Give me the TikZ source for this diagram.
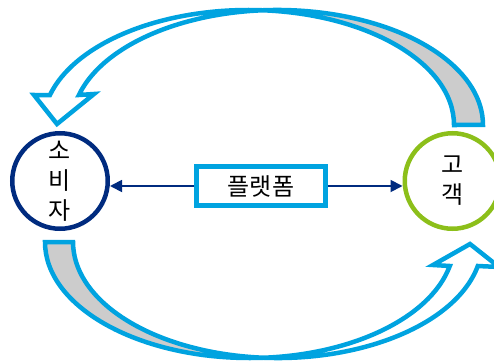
\documentclass[tikz,border=0pt]{standalone}
\usepackage{fontspec}
\setmainfont{Noto Sans CJK KR}
\usetikzlibrary{arrows.meta}
\definecolor{cy}{HTML}{00A3E0}
\definecolor{navy}{HTML}{002B7F}
\definecolor{grn}{HTML}{8CBF1A}
\definecolor{backgray}{HTML}{CCCCCC}
\tikzset{
  bigarrow/.style={draw=cy, line width=4.5pt, line join=miter, miter limit=10},
  backface/.style={fill=backgray},
  party/.style={circle, line width=4.5pt, minimum size=95.5pt, inner sep=0pt, align=center,
    font=\fontsize{24}{30}\selectfont},
  platbox/.style={rectangle, draw=cy, line width=5pt, minimum width=129pt, minimum height=39pt,
    inner sep=0pt, font=\fontsize{24}{28}\selectfont},
  link/.style={draw=navy, line width=1.8pt, -{Triangle[length=12pt,width=12pt]}}
}
\begin{document}
\begin{tikzpicture}[x=1pt,y=1pt]
\useasboundingbox (0,0) rectangle (494,362);
\clip (0,0) rectangle (494,362);
% top curved arrow (customer -> consumer)
\path[backface] (454,237) arc[start angle=0,end angle=85.96,x radius=205.6,y radius=115]
  arc[start angle=94.04,end angle=0,x radius=205.6,y radius=115] -- cycle;
\draw[bigarrow] (454,237) arc[start angle=0,end angle=164.88,x radius=205.6,y radius=115]
  -- (34,267) -- (57,238) -- (94,268) -- (78.9,267)
  arc[start angle=164.88,end angle=0,x radius=205.6,y radius=115] -- cycle;
% bottom curved arrow (consumer -> customer)
\path[backface] (45,120) arc[start angle=180,end angle=273.92,x radius=204.6,y radius=116]
  arc[start angle=266.08,end angle=180,x radius=204.6,y radius=116] -- cycle;
\draw[bigarrow] (45,120) arc[start angle=180,end angle=348.06,x radius=204.6,y radius=116]
  -- (433,97) -- (470,118) -- (499,95) -- (477.8,96)
  arc[start angle=348.06,end angle=180,x radius=204.6,y radius=116] -- cycle;
% nodes
\node[party, draw=navy] (cons) at (60,181) {소\\비\\자};
\node[party, draw=grn] (cust) at (452.5,181) {고\\객};
\node[platbox] (plat) at (261,176) {플랫폼};
% connectors
\draw[link] (plat.west) -- (plat.west -| cons.east);
\draw[link] (plat.east) -- (plat.east -| cust.west);
\end{tikzpicture}
\end{document}
